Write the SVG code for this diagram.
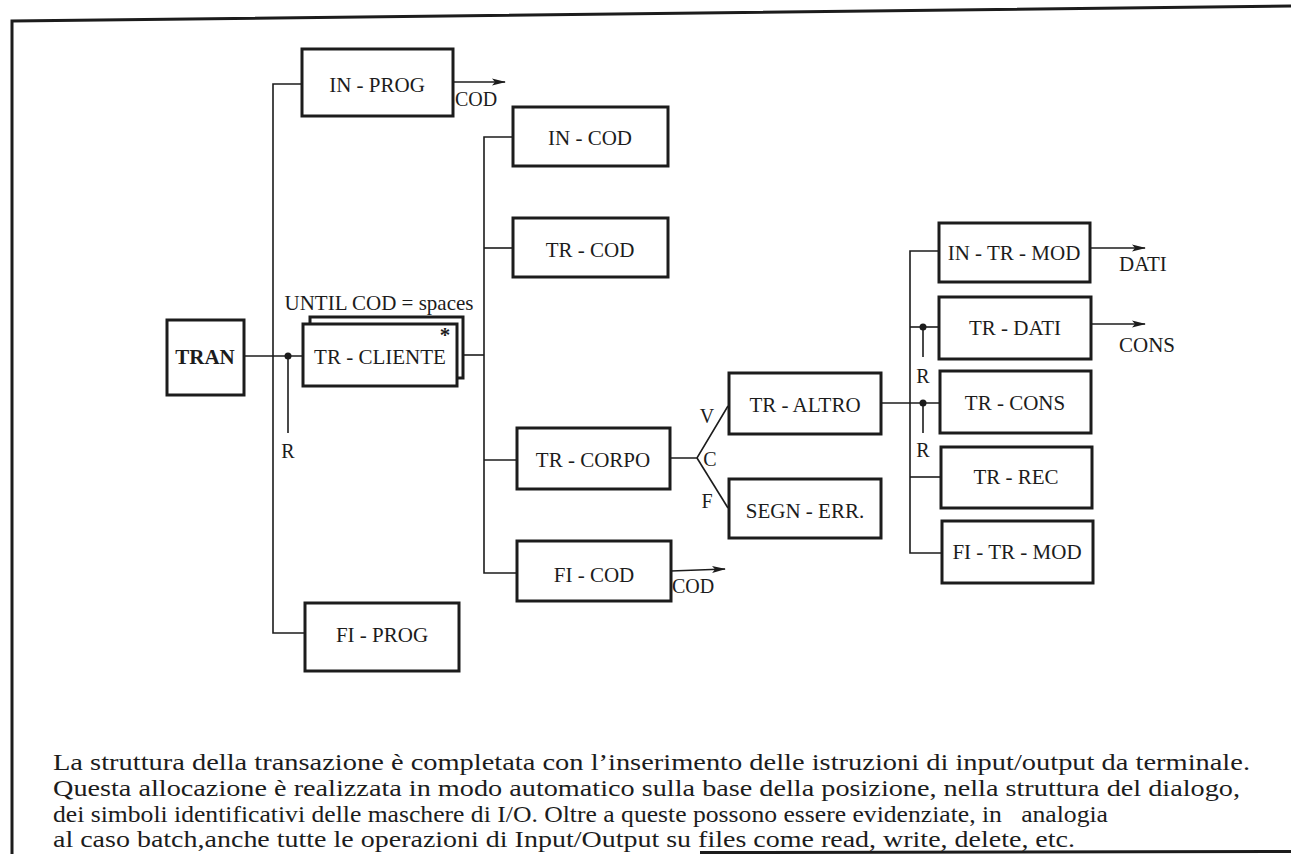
<svg xmlns="http://www.w3.org/2000/svg" width="1291" height="854" viewBox="0 0 1291 854">
<style>
.box{fill:#fff;stroke:#1c1c1c;stroke-width:3}
.lbl{font-family:"Liberation Serif","Times New Roman",serif;font-size:21px;fill:#1c1c1c;text-anchor:middle}
.sm{font-family:"Liberation Serif","Times New Roman",serif;font-size:20px;fill:#1c1c1c}
.ln{fill:none;stroke:#1c1c1c;stroke-width:1.6}
.para{font-family:"Liberation Serif","Times New Roman",serif;font-size:22.5px;fill:#1c1c1c}
</style>
<defs>
<marker id="ah" markerWidth="14" markerHeight="8" refX="13" refY="4" orient="auto" markerUnits="userSpaceOnUse">
<path d="M0,0.5 L14,4 L0,7.5 L3,4 Z" fill="#1c1c1c"/>
</marker>
</defs>
<rect width="1291" height="854" fill="#fff"/>
<g id="frame">
<path d="M12,854 L12,21 L1291,6" fill="none" stroke="#1c1c1c" stroke-width="3"/>
<line x1="700" y1="852.5" x2="1291" y2="851.5" stroke="#1c1c1c" stroke-width="3"/>
</g>
<g id="connectors">
<line class="ln" x1="244" y1="356" x2="303" y2="356"/>
<polyline class="ln" points="302,84 273,84 273,633 305,633"/>
<circle cx="288" cy="356" r="3.5" fill="#1c1c1c"/>
<line class="ln" x1="288" y1="356" x2="288" y2="433"/>
<text class="sm" x="288" y="458" text-anchor="middle">R</text>
<line class="ln" x1="457" y1="355" x2="484" y2="355"/>
<polyline class="ln" points="513,137 484,137 484,573 517,573"/>
<line class="ln" x1="484" y1="248" x2="513" y2="248"/>
<line class="ln" x1="484" y1="460" x2="517" y2="460"/>
<line class="ln" x1="453" y1="82" x2="505" y2="82" marker-end="url(#ah)"/>
<text class="sm" x="455" y="106">COD</text>
<line class="ln" x1="671" y1="571" x2="725" y2="569" marker-end="url(#ah)"/>
<text class="sm" x="672" y="593">COD</text>
<polyline class="ln" points="670,458 697,458 728,406"/>
<line class="ln" x1="697" y1="458" x2="728" y2="508"/>
<text class="sm" x="707" y="423" text-anchor="middle">V</text>
<text class="sm" x="710" y="466" text-anchor="middle">C</text>
<text class="sm" x="707" y="508" text-anchor="middle">F</text>
<line class="ln" x1="881" y1="403" x2="940" y2="403"/>
<polyline class="ln" points="939,251 910,251 910,553 942,553"/>
<line class="ln" x1="910" y1="327" x2="939" y2="327"/>
<line class="ln" x1="910" y1="477" x2="941" y2="477"/>
<circle cx="923" cy="327" r="3.5" fill="#1c1c1c"/>
<line class="ln" x1="923" y1="327" x2="923" y2="357"/>
<text class="sm" x="923" y="383" text-anchor="middle">R</text>
<circle cx="923" cy="403" r="3.5" fill="#1c1c1c"/>
<line class="ln" x1="923" y1="403" x2="923" y2="433"/>
<text class="sm" x="923" y="457" text-anchor="middle">R</text>
<line class="ln" x1="1090" y1="248" x2="1145" y2="248" marker-end="url(#ah)"/>
<text class="lbl" x="1119" y="271" style="text-anchor:start">DATI</text>
<line class="ln" x1="1091" y1="324" x2="1145" y2="324" marker-end="url(#ah)"/>
<text class="lbl" x="1119" y="352" style="text-anchor:start">CONS</text>
</g>
<g id="in-prog"><rect class="box" x="302" y="49" width="151" height="67"/><text class="lbl" x="377" y="92">IN - PROG</text></g>
<g id="in-cod"><rect class="box" x="513" y="107" width="155" height="59"/><text class="lbl" x="590" y="145">IN - COD</text></g>
<g id="tr-cod"><rect class="box" x="513" y="218" width="155" height="59"/><text class="lbl" x="590" y="257">TR - COD</text></g>
<g id="tran"><rect class="box" x="167" y="320" width="77" height="75"/><text class="lbl" x="205" y="364" font-weight="bold">TRAN</text></g>
<g id="tr-cliente">
<text class="lbl" x="379" y="310">UNTIL COD = spaces</text>
<rect class="box" x="310" y="317" width="153" height="61"/>
<rect class="box" x="303" y="324" width="154" height="62"/>
<text class="lbl" x="380" y="364">TR - CLIENTE</text>
<text class="lbl" x="445" y="342" font-size="18" font-weight="bold">*</text>
</g>
<g id="tr-corpo"><rect class="box" x="517" y="428" width="153" height="61"/><text class="lbl" x="593" y="467">TR - CORPO</text></g>
<g id="fi-cod"><rect class="box" x="517" y="541" width="154" height="60"/><text class="lbl" x="594" y="582">FI - COD</text></g>
<g id="fi-prog"><rect class="box" x="305" y="603" width="154" height="68"/><text class="lbl" x="382" y="642">FI - PROG</text></g>
<g id="tr-altro"><rect class="box" x="729" y="373" width="152" height="61"/><text class="lbl" x="805" y="412">TR - ALTRO</text></g>
<g id="segn-err"><rect class="box" x="729" y="479" width="152" height="59"/><text class="lbl" x="805" y="518">SEGN - ERR.</text></g>
<g id="in-tr-mod"><rect class="box" x="939" y="223" width="151" height="59"/><text class="lbl" x="1014" y="260">IN - TR - MOD</text></g>
<g id="tr-dati"><rect class="box" x="939" y="297" width="152" height="62"/><text class="lbl" x="1015" y="335">TR - DATI</text></g>
<g id="tr-cons"><rect class="box" x="940" y="371" width="151" height="62"/><text class="lbl" x="1015" y="410">TR - CONS</text></g>
<g id="tr-rec"><rect class="box" x="941" y="447" width="151" height="61"/><text class="lbl" x="1016" y="484">TR - REC</text></g>
<g id="fi-tr-mod"><rect class="box" x="942" y="521" width="151" height="62"/><text class="lbl" x="1017" y="559">FI - TR - MOD</text></g>
<g id="caption">
<text class="para" x="53" y="770" textLength="1197" lengthAdjust="spacingAndGlyphs">La struttura della transazione è completata con l’inserimento delle istruzioni di input/output da terminale.</text>
<text class="para" x="53" y="796" textLength="1187" lengthAdjust="spacingAndGlyphs">Questa allocazione è realizzata in modo automatico sulla base della posizione, nella struttura del dialogo,</text>
<text class="para" x="53" y="822" textLength="1055" lengthAdjust="spacingAndGlyphs" xml:space="preserve">dei simboli identificativi delle maschere di I/O. Oltre a queste possono essere evidenziate, in   analogia</text>
<text class="para" x="53" y="847" textLength="1022" lengthAdjust="spacingAndGlyphs">al caso batch,anche tutte le operazioni di Input/Output su files come read, write, delete, etc.</text>
</g>
</svg>
